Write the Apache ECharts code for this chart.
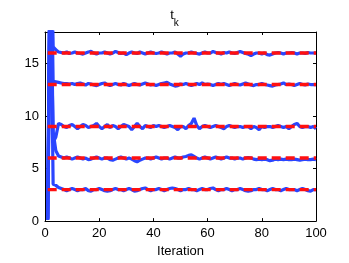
<!DOCTYPE html>
<html><head><meta charset="utf-8">
<script src="https://cdn.jsdelivr.net/npm/echarts@6/dist/echarts.min.js"></script>
<style>html,body{margin:0;padding:0;background:#fff}#c{width:349px;height:263px}</style>
</head><body><div id="c"></div>
<script>
const xTicks = [0, 20, 40, 60, 80, 100];
const yTicks = [0, 5, 10, 15];
const trueValues = [3, 6, 9, 13, 16];
const L3 = [0.2, 25, 3.5, 3.4, 3.2, 3.1, 3.0, 2.9, 3.0, 3.1,
  3.0, 2.9, 3.0, 3.0, 3.1, 2.9, 2.85, 3.0, 3.0, 3.1,
  3.0, 2.9, 2.85, 2.9, 3.0, 3.1, 3.0, 3.0, 2.9, 3.0,
  3.1, 3.0, 2.85, 2.9, 3.0, 3.1, 3.15, 3.0, 2.9, 3.0,
  3.0, 3.1, 3.0, 2.9, 3.0, 3.1, 3.15, 3.1, 3.0, 2.9,
  3.0, 3.0, 3.1, 3.0, 3.0, 2.9, 3.0, 3.1, 3.0, 3.0,
  3.1, 3.15, 3.0, 2.9, 3.0, 3.0, 3.1, 3.0, 2.9, 3.0,
  3.0, 3.1, 3.0, 2.9, 2.85, 2.9, 3.0, 3.0, 3.1, 3.0,
  3.0, 2.9, 3.0, 3.1, 3.0, 3.0, 2.9, 3.0, 3.1, 3.0,
  3.0, 3.0, 2.9, 3.0, 3.1, 3.0, 2.9, 2.85, 3.0, 3.0];
const L6 = [0.1, 22, 8.5, 6.7, 6.2, 6.1, 6.0, 6.1, 6.0, 5.9,
  6.0, 6.1, 6.0, 5.9, 6.0, 5.85, 5.9, 6.0, 6.1, 6.0,
  5.9, 6.0, 6.0, 5.85, 5.8, 5.9, 6.0, 6.1, 6.0, 5.9,
  6.0, 5.9, 5.75, 5.65, 5.8, 5.9, 6.0, 6.0, 5.9, 6.0,
  6.1, 6.0, 5.9, 6.0, 6.0, 5.9, 6.0, 6.1, 6.0, 6.0,
  6.1, 6.15, 6.25, 6.3, 6.15, 6.0, 5.9, 6.0, 6.1, 6.0,
  5.9, 6.0, 6.1, 6.0, 5.9, 6.0, 6.1, 6.0, 6.0, 5.9,
  6.0, 6.0, 5.9, 6.0, 6.05, 6.0, 5.9, 5.85, 5.9, 5.85,
  5.9, 5.85, 5.75, 5.8, 5.9, 5.85, 5.9, 5.85, 5.9, 5.85,
  5.85, 5.9, 5.85, 5.8, 5.85, 5.9, 5.85, 5.85, 5.9, 5.85];
const L9 = [0.3, 28, 7.5, 8.0, 9.3, 9.2, 9.0, 8.9, 9.1, 9.2,
  9.0, 8.8, 9.0, 9.2, 9.1, 8.9, 9.0, 9.1, 9.3, 9.0,
  8.8, 9.0, 9.2, 8.9, 9.1, 9.0, 8.8, 9.0, 9.2, 9.1,
  9.0, 8.7, 9.0, 9.3, 9.0, 8.8, 9.1, 9.0, 8.9, 9.1,
  9.0, 9.1, 9.0, 8.9, 9.0, 9.1, 9.0, 8.9, 8.7, 9.0,
  9.0, 8.8, 9.1, 9.3, 9.8, 9.1, 8.8, 9.0, 9.1, 9.0,
  8.9, 9.0, 9.1, 9.0, 8.9, 8.8, 9.0, 9.1, 9.0, 8.9,
  9.0, 9.0, 8.9, 9.0, 9.0, 8.8, 9.0, 8.9, 8.7, 9.0,
  8.9, 9.0, 9.0, 8.9, 9.0, 9.1, 9.0, 8.9, 9.0, 8.8,
  9.0, 9.2, 9.3, 9.0, 8.9, 9.0, 9.0, 8.9, 9.0, 8.8];
const L13 = [0.2, 30, 13.3, 13.25, 13.2, 13.15, 13.1, 13.1, 13.05, 13.1,
  13.0, 13.1, 13.15, 13.05, 12.95, 13.1, 13.05, 12.95, 12.9, 13.0,
  13.1, 13.15, 13.0, 12.9, 13.0, 13.1, 13.0, 12.95, 13.1, 13.0,
  12.9, 13.0, 13.1, 13.0, 12.95, 13.05, 13.15, 13.05, 12.95, 13.0,
  12.9, 13.0, 13.1, 13.15, 13.2, 13.05, 12.95, 12.85, 12.9, 13.05,
  13.0, 13.1, 13.0, 12.9, 13.0, 13.1, 13.0, 13.15, 13.0, 13.05,
  13.0, 12.9, 13.0, 13.1, 13.0, 13.1, 13.0, 12.9, 13.0, 13.1,
  13.0, 12.95, 13.05, 13.15, 13.05, 12.95, 12.9, 13.0, 13.0, 13.1,
  13.0, 12.95, 12.9, 12.85, 12.95, 13.0, 13.05, 13.15, 13.0, 13.05,
  13.0, 12.9, 13.0, 13.1, 13.0, 12.95, 13.05, 13.0, 13.0, 13.0];
const L16 = [0.1, 32, 16.6, 16.3, 16.1, 16.05, 16.0, 16.1, 15.95, 16.0,
  16.1, 16.0, 15.95, 15.9, 16.0, 16.1, 16.15, 16.0, 15.9, 16.0,
  16.0, 16.1, 16.0, 15.9, 16.0, 16.15, 16.05, 15.95, 16.0, 15.85,
  16.0, 16.1, 16.0, 15.95, 16.1, 16.0, 15.9, 16.0, 16.1, 16.0,
  15.95, 16.0, 16.1, 16.0, 15.9, 16.0, 16.0, 16.1, 15.9, 15.7,
  15.9, 16.0, 16.0, 16.1, 16.0, 15.95, 15.9, 16.0, 16.1, 16.0,
  16.0, 16.15, 16.05, 16.0, 15.9, 16.05, 16.0, 16.1, 16.0, 15.95,
  16.05, 16.15, 16.05, 15.95, 15.9, 15.75, 15.9, 16.0, 16.0, 15.9,
  16.0, 15.85, 15.8, 15.9, 16.0, 16.05, 16.0, 15.9, 16.0, 16.0,
  16.05, 16.0, 15.9, 16.0, 16.0, 15.95, 16.05, 16.0, 16.0, 16.0];
const estimates = [L3, L6, L9, L13, L16];
const iterations = L3.map((_, i) => i + 1);

const chart = echarts.init(document.getElementById('c'), null, {renderer: 'canvas'});
const font = 'Liberation Sans, Arial, Helvetica, sans-serif';
const series = [];
estimates.forEach(arr => {
  series.push({
    type: 'line', xAxisIndex: 0, yAxisIndex: 0, symbol: 'none', animation: false,
    data: arr.map((v, i) => [iterations[i], v]),
    lineStyle: {color: '#2a45ff', width: 3.2}, clip: true, z: 2
  });
});
trueValues.forEach(v => {
  series.push({
    type: 'line', xAxisIndex: 0, yAxisIndex: 0, symbol: 'none', animation: false,
    data: [[iterations[0], v], [iterations[iterations.length - 1], v]],
    lineStyle: {color: '#ff1010', width: 3.4, type: [9, 5]}, z: 3
  });
});
const axisCommon = {
  axisLine: {show: true, onZero: false, lineStyle: {color: '#000', width: 1}},
  axisTick: {show: true, inside: true, length: 3, lineStyle: {color: '#000'}},
  splitLine: {show: false}
};
chart.setOption({
  animation: false,
  backgroundColor: '#fff',
  title: {
    text: '{a|t}{b|k}', left: 'center', top: 4,
    textStyle: {fontWeight: 'normal', rich: {
      a: {fontSize: 13, fontWeight: 'normal', fontFamily: font, color: '#000', verticalAlign: 'top'},
      b: {fontSize: 10, fontWeight: 'normal', fontFamily: font, color: '#000', padding: [9, 0, 0, 0], verticalAlign: 'top'}
    }}
  },
  grid: {left: 45, right: 33, top: 32, bottom: 40},
  xAxis: [
    Object.assign({type: 'value', min: 0, max: 100, interval: 20, position: 'bottom',
      name: 'Iteration', nameLocation: 'middle', nameGap: 22,
      nameTextStyle: {fontSize: 13, fontFamily: font, color: '#000'},
      axisLabel: {fontSize: 13, fontFamily: font, color: '#000', margin: 6,
        customValues: xTicks}}, axisCommon),
    Object.assign({type: 'value', min: 0, max: 100, interval: 20, position: 'top',
      axisLabel: {show: false}}, axisCommon)
  ],
  yAxis: [
    Object.assign({type: 'value', min: 0, max: 18, interval: 5, position: 'left',
      axisLabel: {fontSize: 13, fontFamily: font, color: '#000', margin: 6,
        customValues: yTicks}}, axisCommon, {
      axisTick: {show: true, inside: true, length: 3, lineStyle: {color: '#000'}, customValues: yTicks}}),
    Object.assign({type: 'value', min: 0, max: 18, interval: 5, position: 'right',
      axisLabel: {show: false}}, axisCommon, {
      axisTick: {show: true, inside: true, length: 3, lineStyle: {color: '#000'}, customValues: yTicks}})
  ],
  series: series
});
</script></body></html>
